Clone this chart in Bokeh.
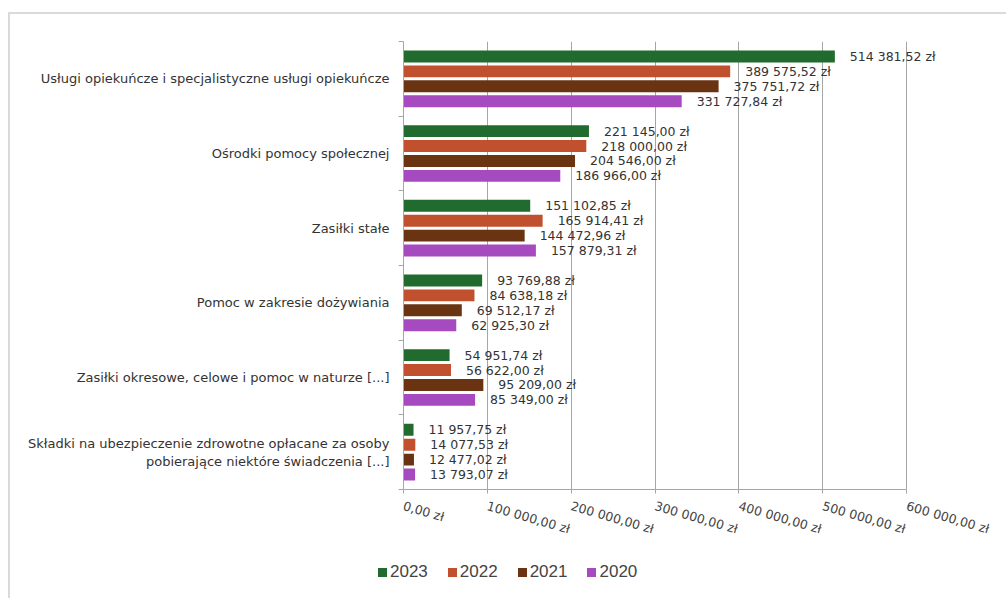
from bokeh.plotting import figure
from bokeh.models import Range1d, FixedTicker, ColumnDataSource, Div
from bokeh.layouts import column
from bokeh.transform import dodge
from bokeh.core.properties import value
from bokeh.embed import file_html
from bokeh.resources import INLINE

categories = [
    "Usługi opiekuńcze i specjalistyczne usługi opiekuńcze",
    "Ośrodki pomocy społecznej",
    "Zasiłki stałe",
    "Pomoc w zakresie dożywiania",
    "Zasiłki okresowe, celowe i pomoc w naturze [...]",
    "Składki na ubezpieczenie zdrowotne opłacane za osoby\npobierające niektóre świadczenia [...]",
]
years = ["2023", "2022", "2021", "2020"]
v2023 = [514381.52, 221145.00, 151102.85, 93769.88, 54951.74, 11957.75]
v2022 = [389575.52, 218000.00, 165914.41, 84638.18, 56622.00, 14077.53]
v2021 = [375751.72, 204546.00, 144472.96, 69512.17, 95209.00, 12477.02]
v2020 = [331727.84, 186966.00, 157879.31, 62925.30, 85349.00, 13793.07]
x_ticks = [0, 100000, 200000, 300000, 400000, 500000, 600000]
x_tick_labels = ["0,00 zł", "100 000,00 zł", "200 000,00 zł", "300 000,00 zł",
                 "400 000,00 zł", "500 000,00 zł", "600 000,00 zł"]

colors = ["#216b2f", "#c0502e", "#6a3312", "#a54bbf"]
offsets = [-0.3, -0.1, 0.1, 0.3]
series = [v2023, v2022, v2021, v2020]


def fmt(v):
    return f"{v:,.2f}".replace(",", " ").replace(".", ",") + " zł"


centers = [i + 0.5 for i in range(len(categories))]

p = figure(width=994, height=540, output_backend="svg", toolbar_location=None,
           x_range=Range1d(0, 700000), y_range=Range1d(len(categories), 0),
           min_border_left=393, min_border_right=14, min_border_top=27,
           min_border_bottom=65)
p.outline_line_color = None
p.background_fill_color = "white"

for yr, vals, col, off in zip(years, series, colors, offsets):
    src = ColumnDataSource(dict(y=centers, v=vals, lab=[fmt(v) for v in vals]))
    p.hbar(y=dodge("y", off, range=p.y_range), right="v", left=0, height=0.16,
           source=src, fill_color=col, line_color=None)
    p.text(x="v", y=dodge("y", off, range=p.y_range), text="lab", source=src,
           x_offset=15, text_baseline="middle", text_align="left",
           text_font=value("DejaVu Sans"), text_font_size="12.5px",
           text_color="#333333")

# x axis
xa = p.xaxis[0]
xa.ticker = FixedTicker(ticks=x_ticks)
xa.bounds = (0, 600000)
xa.major_label_overrides = {t: l for t, l in zip(x_ticks, x_tick_labels)}
xa.major_label_orientation = -0.28
xa.major_label_text_font = "DejaVu Sans"
xa.major_label_text_font_size = "12.5px"
xa.major_label_text_color = "#444444"
xa.axis_line_color = "#a6a6a6"
xa.major_tick_line_color = "#a6a6a6"
xa.major_tick_out = 4
xa.major_tick_in = 0
xa.minor_tick_line_color = None
xa.major_label_standoff = 12

# y axis
ya = p.yaxis[0]
ya.ticker = FixedTicker(ticks=centers, minor_ticks=list(range(len(categories) + 1)))
ya.major_label_overrides = {c: l for c, l in zip(centers, categories)}
ya.major_label_text_font = "DejaVu Sans"
ya.major_label_text_font_size = "13px"
ya.major_label_text_color = "#333333"
ya.axis_line_color = "#a6a6a6"
ya.major_tick_line_color = None
ya.minor_tick_line_color = "#a6a6a6"
ya.minor_tick_out = 5
ya.minor_tick_in = 0
ya.major_label_standoff = 8

p.xgrid.ticker = FixedTicker(ticks=x_ticks)
p.xgrid.grid_line_color = "#a6a6a6"
p.ygrid.grid_line_color = None

# legend strip (HTML)
items = "".join(
    f'<span style="display:inline-block;width:9px;height:9px;background:{c};'
    f'margin-right:3px"></span><span style="margin-right:20px">{y}</span>'
    for y, c in zip(years, colors))
legend_html = ('<div style="display:flex;align-items:center;margin-left:363px;'
               'margin-top:3px;font-family:\'Liberation Sans\',Arial,sans-serif;'
               'font-size:17px;line-height:20px;color:#444444">' + items + '</div>')
legend_div = Div(text=legend_html, width=994, height=42)

layout = column(p, legend_div, spacing=0)
layout.styles = {"border-top": "2px solid #dadada", "border-left": "2px solid #dadada",
                 "margin-top": "12px", "margin-left": "8px"}

open("out.html", "w").write(file_html(layout, INLINE))
